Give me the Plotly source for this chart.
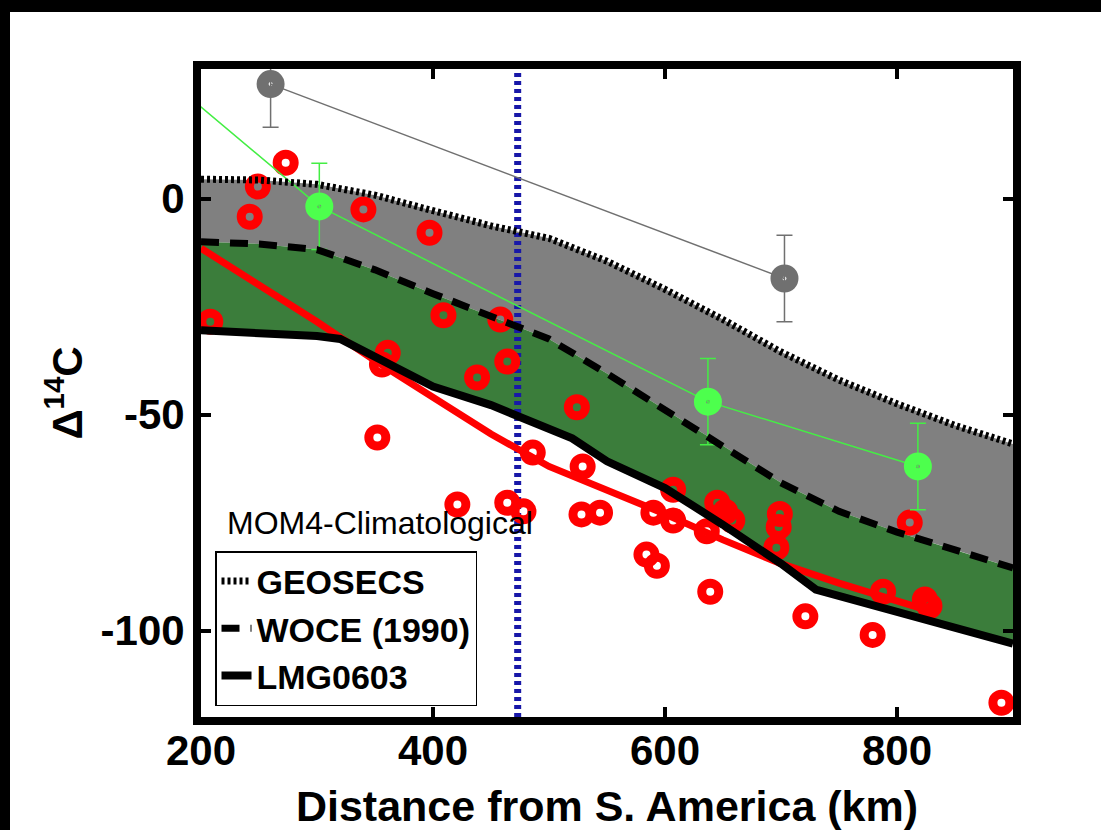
import plotly.graph_objects as go

# ---------------- data ----------------
geosecs_x = [200, 250, 300, 350, 400, 450, 500, 550, 600, 650, 700, 750, 800, 850, 900]
geosecs_y = [4.5, 4.3, 3.3, 0.8, -2.8, -6.3, -9.2, -14.5, -21, -28, -35.5, -42, -47.5, -52.5, -56.8]

woce_x = [200, 250, 300, 350, 400, 450, 500, 550, 600, 650, 700, 750, 800, 850, 900]
woce_y = [-10, -10.5, -11.8, -16.5, -22, -27.3, -32.5, -40.5, -48.8, -57.2, -65.8, -72.4, -77.2, -81.3, -85.5]

lmg_x = [200, 250, 300, 320, 350, 400, 450, 500, 520, 550, 600, 650, 700, 730, 800, 850, 900]
lmg_y = [-30.5, -31, -31.8, -32.5, -36.5, -43.5, -47.8, -53, -55.5, -60.8, -67, -75.5, -84.5, -90.5, -95.7, -99.5, -103]

model_x = [200, 250, 300, 350, 400, 450, 500, 550, 600, 650, 700, 750, 800, 835]
model_y = [-11.5, -20, -28.5, -37.5, -46, -54.5, -62, -67.5, -73, -79, -84.5, -89, -93, -96]

obs_x = [273, 249, 242, 340, 397, 208, 409, 458, 361, 356, 464, 438, 352, 524, 486, 529,
         421, 464, 478, 528, 544, 590, 607, 584, 593, 607, 636, 639, 645, 652, 658,
         699, 698, 696, 721, 779, 788, 811, 824, 828, 890]
obs_y = [8.3, 2.8, -4.2, -2.5, -7.9, -28.5, -27, -28, -35.7, -38.4, -37.7, -41.4, -55.3, -48.3, -58.8, -62,
         -70.8, -70.4, -72.4, -73.1, -72.7, -72.7, -67.4, -82.4, -85, -74.5, -77, -91, -70.4, -72.5, -74.5,
         -73, -76, -80.8, -96.7, -101, -91, -75, -92.8, -94.3, -116.7]

green_x = [150, 302, 637, 818]
green_y = [32.5, -1.8, -47, -62]
green_err = [10, 10, 10, 10]

gray_x = [260, 703]
gray_y = [26.5, -18.5]
gray_err = [10, 10]

boundary_x = 473

x_range = [200, 900]
y_range = [-120, 30]
x_ticks = [200, 400, 600, 800]
x_ticklabels = ["200", "400", "600", "800"]
y_ticks = [-100, -50, 0]
y_ticklabels = ["-100", "-50", "0"]

# ---------------- layout constants ----------------
W, H = 1101, 830
ML, MR, MT, MB = 201, 88, 69, 113
PW, PH = W - ML - MR, H - MT - MB

FONT = "Liberation Sans, Arial, sans-serif"

fig = go.Figure()

# gray band (GEOSECS -> WOCE)
fig.add_trace(go.Scatter(
    x=geosecs_x + woce_x[::-1], y=geosecs_y + woce_y[::-1],
    fill="toself", fillcolor="#808080", line=dict(width=0),
    mode="lines", showlegend=False, hoverinfo="skip"))
# green band (WOCE -> LMG0603)
fig.add_trace(go.Scatter(
    x=woce_x + lmg_x[::-1], y=woce_y + lmg_y[::-1],
    fill="toself", fillcolor="#3b7d3b", line=dict(width=0),
    mode="lines", showlegend=False, hoverinfo="skip"))

# vertical boundary
fig.add_trace(go.Scatter(
    x=[boundary_x, boundary_x], y=y_range, mode="lines",
    line=dict(color="#1818a8", width=7, dash="4px,4px"),
    showlegend=False, hoverinfo="skip"))

# observations (red open circles)
fig.add_trace(go.Scatter(
    x=obs_x, y=obs_y, mode="markers",
    marker=dict(symbol="circle-open", size=17, color="#ff0000", line=dict(width=9, color="#ff0000")),
    showlegend=False))

# model line (red)
fig.add_trace(go.Scatter(
    x=model_x, y=model_y, mode="lines",
    line=dict(color="#ff0000", width=7), showlegend=False))

# gray series
fig.add_trace(go.Scatter(
    x=gray_x, y=gray_y, mode="lines+markers",
    line=dict(color="#707070", width=1.5),
    marker=dict(symbol="circle-open", size=16, color="#707070", line=dict(width=12, color="#707070")),
    error_y=dict(type="data", array=gray_err, visible=True, color="#707070", thickness=1.5, width=8),
    showlegend=False))

# green series
fig.add_trace(go.Scatter(
    x=green_x, y=green_y, mode="lines+markers",
    line=dict(color="#44ee44", width=1.5),
    marker=dict(symbol="circle-open", size=16, color="#4dff4d", line=dict(width=12, color="#4dff4d")),
    error_y=dict(type="data", array=green_err, visible=True, color="#44ee44", thickness=1.5, width=8),
    showlegend=False))

# black reference lines
fig.add_trace(go.Scatter(
    x=geosecs_x, y=geosecs_y, mode="lines", name="GEOSECS",
    line=dict(color="black", width=7, dash="3px,3px")))
fig.add_trace(go.Scatter(
    x=woce_x, y=woce_y, mode="lines", name="WOCE (1990)",
    line=dict(color="black", width=7, dash="18px,11px")))
fig.add_trace(go.Scatter(
    x=lmg_x, y=lmg_y, mode="lines", name="LMG0603",
    line=dict(color="black", width=8)))

# black strips of the outer frame
fig.add_shape(type="rect", xref="paper", yref="paper",
              x0=-ML / PW, x1=(W - ML) / PW, y0=(PH + MT - 12) / PH, y1=(PH + MT) / PH,
              fillcolor="black", line=dict(width=0), layer="below")
fig.add_shape(type="rect", xref="paper", yref="paper",
              x0=-ML / PW, x1=(10 - ML) / PW, y0=-MB / PH, y1=(PH + MT) / PH,
              fillcolor="black", line=dict(width=0), layer="below")

fig.add_annotation(text="MOM4-Climatological", xref="paper", yref="paper",
                   x=(225 - ML) / PW, y=(MT + PH - 523) / PH, xanchor="left", yanchor="middle",
                   showarrow=False, font=dict(family=FONT, size=32, color="black"))

axis_common = dict(showline=True, linewidth=8, linecolor="black", mirror="allticks",
                   ticks="inside", ticklen=10, tickwidth=4, tickcolor="black",
                   showgrid=False, zeroline=False,
                   tickfont=dict(family=FONT, size=42, color="black", weight="bold"))

fig.update_xaxes(range=x_range, tickvals=x_ticks, ticktext=x_ticklabels, ticklabelstandoff=-10,
                 **axis_common,
                 title=dict(text="Distance from S. America (km)", standoff=22,
                            font=dict(family=FONT, size=43, color="black", weight="bold")))
fig.update_yaxes(range=y_range, tickvals=y_ticks, ticktext=y_ticklabels, **axis_common,
                 title=dict(text="Δ<sup>14</sup>C", standoff=8,
                            font=dict(family=FONT, size=42, color="black", weight="bold")))

fig.update_layout(
    width=W, height=H, autosize=False,
    margin=dict(l=ML, r=MR, t=MT, b=MB, pad=0),
    paper_bgcolor="white", plot_bgcolor="white",
    showlegend=True,
    legend=dict(x=(215 - ML) / PW, y=(MT + PH - 706) / PH, xanchor="left", yanchor="bottom",
                bgcolor="white", bordercolor="black", borderwidth=1.5,
                font=dict(family=FONT, size=34, color="black", weight="bold"),
                traceorder="normal"),
    hovermode=False,
)
fig.update_xaxes(automargin=False)
fig.update_yaxes(automargin=False)

fig.write_html("out.html")
